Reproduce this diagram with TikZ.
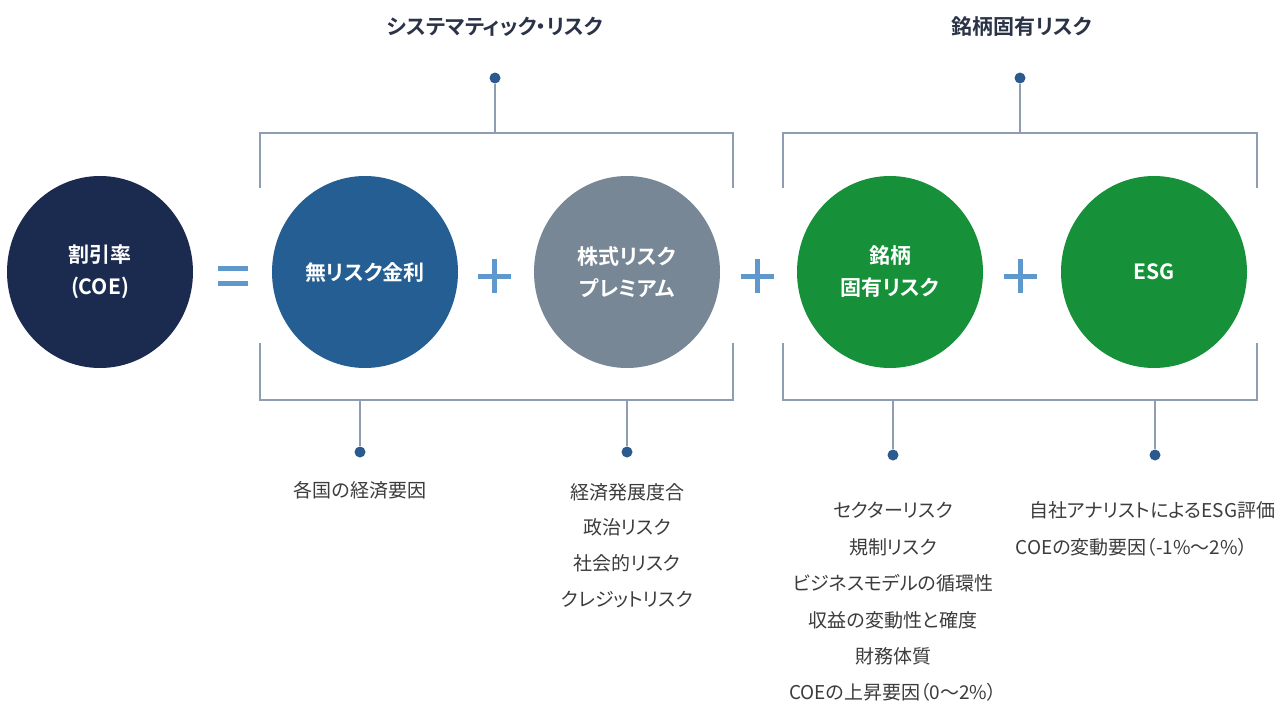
\documentclass[tikz,border=0pt]{standalone}
\usepackage{fontspec}
\newfontfamily\jp[RawFeature=+palt]{Noto Sans CJK JP}
\newfontfamily\jpb[RawFeature=+palt]{Noto Sans CJK JP Bold}
\usetikzlibrary{shapes.geometric}
\definecolor{navy}{HTML}{1B2B50}
\definecolor{cblue}{HTML}{245E92}
\definecolor{cgrey}{HTML}{788796}
\definecolor{cgreen}{HTML}{16913A}
\definecolor{brk}{HTML}{8E9DB0}
\definecolor{dotc}{HTML}{2A5A8E}
\definecolor{opc}{HTML}{5E98CC}
\definecolor{titc}{HTML}{2B3347}
\definecolor{txtc}{HTML}{3C3C3C}
\tikzset{
  circ/.style={ellipse, minimum width=186pt, minimum height=192pt, inner sep=0pt, text=white, align=center, font=\jpb\fontsize{21}{32}\selectfont},
  brline/.style={draw=brk, line width=1.6pt},
  dotnode/.style={circle, fill=dotc, minimum size=11pt, inner sep=0pt},
  title/.style={text=titc, font=\jpb\fontsize{21}{26}\selectfont},
  lowtxt/.style={text=txtc, font=\jp\fontsize{19}{24}\selectfont},
  opline/.style={draw=opc, line width=5pt},
}
\begin{document}
\begin{tikzpicture}[x=1pt, y=-1pt]
\useasboundingbox (0,0) rectangle (1280,704);
\clip (0,0) rectangle (1280,704);
\fill[white] (0,0) rectangle (1280,704);

% circles
\node[circ, fill=navy] (coe) at (100,272) {割引率\\(COE)};
\node[circ, fill=cblue] (rf) at (365,272) {無リスク金利};
\node[circ, fill=cgrey] (erp) at (627,272) {株式リスク\\プレミアム};
\node[circ, fill=cgreen] (sr) at (890,272) {銘柄\\固有リスク};
\node[circ, fill=cgreen] (esg) at (1154,272) {ESG};

% operators
\draw[opline] (218,268) -- (248,268);
\draw[opline] (218,283) -- (248,283);
\draw[opline] (478,276) -- (511,276);
\draw[opline] (494.5,259) -- (494.5,293);
\draw[opline] (741,276) -- (774,276);
\draw[opline] (757.5,259) -- (757.5,293);
\draw[opline] (1004,276) -- (1037,276);
\draw[opline] (1020.5,259) -- (1020.5,293);

% titles
\node[title] (t1) at (495,27) {システマティック・リスク};
\node[title] (t2) at (1022,27) {銘柄固有リスク};

% left bracket
\coordinate (l1) at (260,188);
\coordinate (l2) at (260,133);
\coordinate (l3) at (733,133);
\coordinate (l4) at (733,188);
\coordinate (l5) at (260,343);
\coordinate (l6) at (260,400);
\coordinate (l7) at (733,400);
\coordinate (l8) at (733,343);
\draw[brline] (l1) -- (l2) -- (l3) -- (l4);
\draw[brline] (l5) -- (l6) -- (l7) -- (l8);
\coordinate (ltop) at (495,133);
\node[dotnode] (dt1) at (495,78) {};
\draw[brline] (ltop) -- (dt1);
\coordinate (lb1) at (360,400);
\coordinate (lb2) at (627,400);
\node[dotnode] (db1) at (360,452) {};
\node[dotnode] (db2) at (627,452) {};
\draw[brline] (lb1) -- (db1);
\draw[brline] (lb2) -- (db2);

% right bracket
\coordinate (r1) at (783,188);
\coordinate (r2) at (783,133);
\coordinate (r3) at (1257,133);
\coordinate (r4) at (1257,188);
\coordinate (r5) at (783,343);
\coordinate (r6) at (783,400);
\coordinate (r7) at (1257,400);
\coordinate (r8) at (1257,343);
\draw[brline] (r1) -- (r2) -- (r3) -- (r4);
\draw[brline] (r5) -- (r6) -- (r7) -- (r8);
\coordinate (rtop) at (1020,133);
\node[dotnode] (dt2) at (1020,78) {};
\draw[brline] (rtop) -- (dt2);
\coordinate (rb1) at (893,400);
\coordinate (rb2) at (1155,400);
\node[dotnode] (db3) at (893,455) {};
\node[dotnode] (db4) at (1155,455) {};
\draw[brline] (rb1) -- (db3);
\draw[brline] (rb2) -- (db4);

% lower texts
\node[lowtxt] (a1) at (360,490) {各国の経済要因};
\node[lowtxt] (b1) at (627,492) {経済発展度合};
\node[lowtxt] (b2) at (627,527) {政治リスク};
\node[lowtxt] (b3) at (627,563) {社会的リスク};
\node[lowtxt] (b4) at (627,600) {クレジットリスク};
\node[lowtxt] (c1) at (893,510) {セクターリスク};
\node[lowtxt] (c2) at (893,547) {規制リスク};
\node[lowtxt] (c3) at (893,583) {ビジネスモデルの循環性};
\node[lowtxt] (c4) at (893,620) {収益の変動性と確度};
\node[lowtxt] (c5) at (893,656) {財務体質};
\node[lowtxt] (c6) at (893,692) {COEの上昇要因（0～2\%）};
\node[lowtxt, anchor=west] (d1) at (1026,510) {自社アナリストによるESG評価};
\node[lowtxt, anchor=west] (d2) at (1012,547) {COEの変動要因（-1\%～2\%）};
\end{tikzpicture}
\end{document}
